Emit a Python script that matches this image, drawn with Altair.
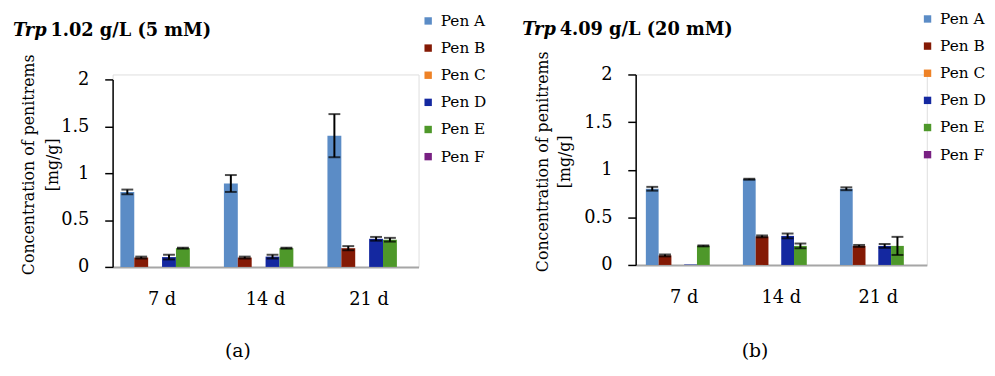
import altair as alt
import pandas as pd

FONT = "DejaVu Serif"

days = ["7 d", "14 d", "21 d"]
pens = ["Pen A", "Pen B", "Pen C", "Pen D", "Pen E", "Pen F"]
colors = ["#5B8CC6", "#841A05", "#EE8226", "#1428A0", "#4E982A", "#782082"]

# Panel (a): Trp 1.02 g/L (5 mM) -- mean values per pen over days
a_vals = {
    "Pen A": [0.80, 0.89, 1.40],
    "Pen B": [0.10, 0.10, 0.20],
    "Pen C": [0.0, 0.0, 0.0],
    "Pen D": [0.105, 0.11, 0.30],
    "Pen E": [0.20, 0.20, 0.29],
    "Pen F": [0.0, 0.0, 0.0],
}
a_errs = {
    "Pen A": [0.025, 0.09, 0.23],
    "Pen B": [0.01, 0.01, 0.022],
    "Pen C": [0.0, 0.0, 0.0],
    "Pen D": [0.025, 0.02, 0.02],
    "Pen E": [0.005, 0.005, 0.02],
    "Pen F": [0.0, 0.0, 0.0],
}

# Panel (b): Trp 4.09 g/L (20 mM)
b_vals = {
    "Pen A": [0.80, 0.90, 0.80],
    "Pen B": [0.10, 0.30, 0.20],
    "Pen C": [0.0, 0.0, 0.0],
    "Pen D": [0.005, 0.305, 0.20],
    "Pen E": [0.20, 0.20, 0.20],
    "Pen F": [0.0, 0.0, 0.0],
}
b_errs = {
    "Pen A": [0.02, 0.005, 0.015],
    "Pen B": [0.01, 0.01, 0.01],
    "Pen C": [0.0, 0.0, 0.0],
    "Pen D": [0.0, 0.025, 0.02],
    "Pen E": [0.005, 0.025, 0.095],
    "Pen F": [0.0, 0.0, 0.0],
}

y_title = ["Concentration of penitrems", "[mg/g]"]


def make_df(vals, errs):
    rows = []
    for p in pens:
        for i, d in enumerate(days):
            v, e = vals[p][i], errs[p][i]
            rows.append({"day": d, "pen": p, "value": v, "lo": v - e, "hi": v + e, "err": e})
    return pd.DataFrame(rows)


def panel(vals, errs, title_num, label, W, H, yrange, pi, po, lx, ly, tx, tnx, ty,
          ytx, yty, ylh, labx, laby):
    df = make_df(vals, errs)
    edf = df[df["err"] > 0]

    x = alt.X("day:N", sort=days, title=None,
              scale=alt.Scale(paddingInner=pi, paddingOuter=po),
              axis=alt.Axis(labelAngle=0, labelFont=FONT, labelFontSize=18, labelColor="black",
                            domainColor="#A6A6A6", domainWidth=2, ticks=False, tickSize=0,
                            labelPadding=24))
    xo = alt.XOffset("pen:N", sort=pens, scale=alt.Scale(paddingInner=0, paddingOuter=0))
    color = alt.Color("pen:N", sort=pens,
                      scale=alt.Scale(domain=pens, range=colors),
                      legend=alt.Legend(orient="none", legendX=lx, legendY=ly, title=None,
                                        padding=0,
                                        symbolType="square", symbolSize=56, symbolStrokeWidth=0,
                                        labelFont=FONT, labelFontSize=15.5, labelColor="black",
                                        rowPadding=10.5, labelOffset=5))
    y = alt.Y("value:Q", title=y_title,
              scale=alt.Scale(domain=[0, 2], range=yrange),
              axis=alt.Axis(values=[0, 0.5, 1, 1.5, 2], format=".1~f", grid=False,
                            labelFont=FONT,
                            labelFontSize=18, labelColor="black", domainColor="black",
                            domainWidth=1.5, tickColor="black", tickWidth=1.5, tickSize=8,
                            labelPadding=16, titleFont=FONT, titleFontSize=16,
                            titleFontWeight="normal", titleColor="black",
                            titleX=ytx, titleY=yty, titleBaseline="middle",
                            titleLineHeight=ylh, titleAngle=270))

    bars = alt.Chart(df).mark_bar().encode(x=x, xOffset=xo, y=y, color=color)
    rule = alt.Chart(edf).mark_rule(color="black", strokeWidth=2).encode(
        x=alt.X("day:N", sort=days), xOffset=alt.XOffset("pen:N", sort=pens),
        y="lo:Q", y2="hi:Q")
    cap_lo = alt.Chart(edf).mark_tick(color="black", thickness=2, size=12).encode(
        x=alt.X("day:N", sort=days), xOffset=alt.XOffset("pen:N", sort=pens), y="lo:Q")
    cap_hi = alt.Chart(edf).mark_tick(color="black", thickness=2, size=12).encode(
        x=alt.X("day:N", sort=days), xOffset=alt.XOffset("pen:N", sort=pens), y="hi:Q")

    t1 = alt.Chart(pd.DataFrame({"t": ["Trp"]})).mark_text(
        font=FONT, fontSize=18, fontWeight="bold", fontStyle="italic",
        align="left", baseline="alphabetic", color="black").encode(
        text="t:N", x=alt.value(tx), y=alt.value(ty))
    t2 = alt.Chart(pd.DataFrame({"t": [title_num]})).mark_text(
        font=FONT, fontSize=18, fontWeight="bold",
        align="left", baseline="alphabetic", color="black").encode(
        text="t:N", x=alt.value(tnx), y=alt.value(ty))
    lab = alt.Chart(pd.DataFrame({"t": [label]})).mark_text(
        font=FONT, fontSize=19, align="center", baseline="middle", color="black").encode(
        text="t:N", x=alt.value(labx), y=alt.value(laby))

    return alt.layer(bars, rule, cap_lo, cap_hi, t1, t2, lab).properties(width=W, height=H)


left = panel(a_vals, a_errs, "1.02 g/L (5 mM)", "(a)", 310, 195, [195, 5], 0.195, 0.075,
             312, -62, -101, -63, -39, -85, 91, 24, 127, 280)
right = panel(b_vals, b_errs, "4.09 g/L (20 mM)", "(b)", 295, 193, [193, 0], 0.21, 0.105,
              288, -64, -115, -77, -40, -94, 88, 22, 121, 280)

chart = alt.hconcat(left, right, spacing=34).resolve_scale(
    color="independent", x="independent", y="independent", xOffset="independent"
).properties(padding={"left": 4, "top": 0, "right": 0, "bottom": 0}
).configure_view(stroke=None).configure(background="white")

chart.save("out.html", embed_options={"renderer": "svg", "actions": False})
